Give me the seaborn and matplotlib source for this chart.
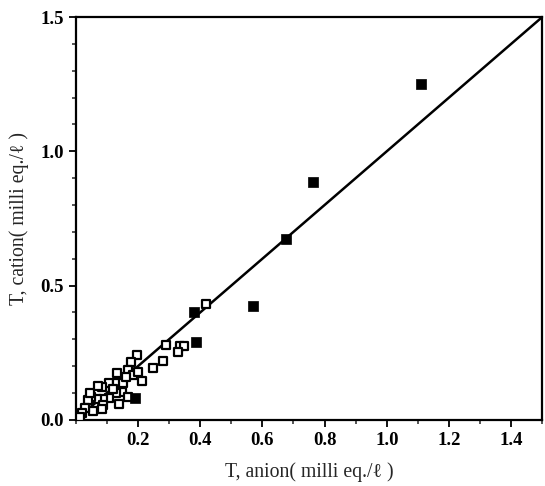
import numpy as np
import pandas as pd
import matplotlib
matplotlib.use("Agg")
import matplotlib.pyplot as plt
from matplotlib.ticker import MultipleLocator, FixedLocator
import seaborn as sns

# filled squares
anion_filled = [1.11, 0.763, 0.676, 0.570, 0.380, 0.386, 0.190]
cation_filled = [1.250, 0.886, 0.674, 0.424, 0.402, 0.290, 0.082]

# open squares (dense cluster near origin)
anion_open = [0.420, 0.290, 0.335, 0.348, 0.328, 0.280, 0.248, 0.212, 0.196, 0.177,
              0.167, 0.183, 0.132, 0.106, 0.083, 0.132, 0.151, 0.148, 0.129, 0.167,
              0.106, 0.087, 0.068, 0.050, 0.039, 0.045, 0.055, 0.029, 0.019, 0.087,
              0.083, 0.013, 0.160, 0.120, 0.070, 0.200, 0.140]
cation_open = [0.430, 0.280, 0.275, 0.275, 0.253, 0.220, 0.194, 0.145, 0.242, 0.216,
               0.186, 0.167, 0.175, 0.138, 0.123, 0.138, 0.138, 0.104, 0.100, 0.086,
               0.082, 0.078, 0.078, 0.086, 0.074, 0.100, 0.033, 0.045, 0.026, 0.056,
               0.040, 0.011, 0.160, 0.115, 0.125, 0.180, 0.060]

# 1:1 line
line_x = [0.0, 1.5]
line_y = [0.0, 1.5]

sns.set_style("ticks")
plt.rcParams['font.family'] = ['Liberation Serif', 'DejaVu Serif']

fig = plt.figure(figsize=(5.45, 4.86), dpi=100)
ax = fig.add_axes([0.139, 0.136, 0.856, 0.829])

sns.lineplot(x=line_x, y=line_y, ax=ax, color="black", linewidth=1.8)
sns.scatterplot(x=anion_open, y=cation_open, ax=ax, marker="s", s=28,
                facecolor="white", edgecolor="black", linewidth=1.6, zorder=3)
sns.scatterplot(x=anion_filled, y=cation_filled, ax=ax, marker="s", s=48,
                color="black", edgecolor="black", linewidth=0.5, zorder=4)

ax.set_xlim(0, 1.5)
ax.set_ylim(0, 1.5)
ax.xaxis.set_major_locator(FixedLocator([0.2, 0.4, 0.6, 0.8, 1.0, 1.2, 1.4]))
ax.xaxis.set_minor_locator(MultipleLocator(0.1))
ax.yaxis.set_major_locator(MultipleLocator(0.5))
ax.yaxis.set_minor_locator(MultipleLocator(0.1))
ax.tick_params(which="major", direction="out", length=5, width=1.3, labelsize=13.5, colors="black")
ax.tick_params(which="minor", direction="out", length=3, width=1.1)
for lab in ax.get_xticklabels() + ax.get_yticklabels():
    lab.set_fontweight("bold")
for sp in ax.spines.values():
    sp.set_linewidth(1.6)
    sp.set_color("black")

ax.set_xlabel("T, anion( milli eq./\u2113 )", fontsize=14.2, labelpad=10)
ax.set_ylabel("T, cation( milli eq./\u2113 )", fontsize=14.2, labelpad=8)

fig.savefig("out.png", dpi=100)
